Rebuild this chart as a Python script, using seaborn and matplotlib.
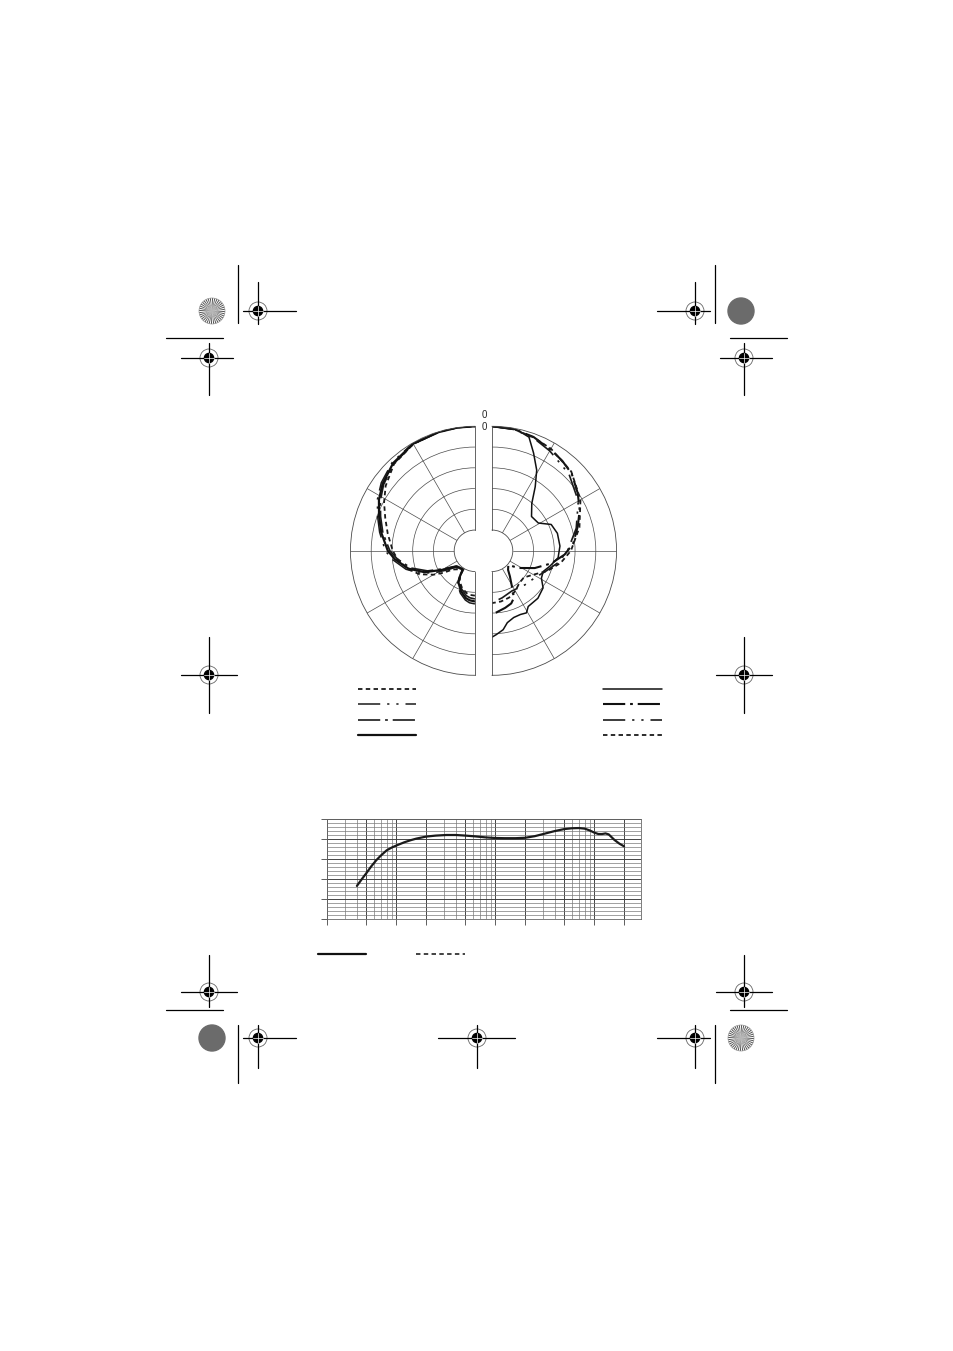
import numpy as np
import matplotlib
matplotlib.use("Agg")
import matplotlib.pyplot as plt
from matplotlib.lines import Line2D
from matplotlib.patches import Circle, Wedge
import seaborn as sns

W, H = 954, 1351

# polar pattern, right half (0..180 deg, 0 = front)
R_SOLID_ANG = [0, 8, 12, 18, 23, 29, 34, 40, 49, 59, 66, 75, 86, 96, 105, 112, 119, 126, 136, 147, 151, 156, 162, 168, 172, 177, 180]
R_SOLID_DB = [0, -0.1, -0.3, -1.2, -4.4, -7.8, -11.4, -15.1, -17.4, -17.0, -14.4, -13.7, -13.6, -14.0, -15.6, -16.7,
              -16.4, -14.8, -14.1, -14.0, -12.9, -13.2, -13.1, -12.3, -10.8, -9.8, -9.2]
R_LDOT_ANG = [0, 10, 20, 31, 38, 46, 56, 65, 74, 85, 93, 102, 112, 123, 131, 140, 145, 150, 155, 160, 167, 180]
R_LDOT_DB = [0, -0.2, -0.8, -1.9, -2.5, -3.3, -5.1, -6.7, -8.5, -10.4, -12.5, -15.4, -18.9, -22.4, -24.8, -24.0,
             -22.5, -20.6, -17.5, -16.5, -15.9, -14.6]
R_LDD_ANG = [0, 10, 20, 30, 45, 60, 75, 90, 100, 110, 122, 136, 154, 168, 180]
R_LDD_DB = [0, -0.3, -1.0, -2.2, -3.8, -6.0, -9.0, -11.8, -13.8, -16.0, -17.8, -18.6, -19.2, -18.4, -17.5]
R_DASH_ANG = [0, 10, 20, 30, 45, 60, 75, 90, 100, 110, 120, 130, 140, 150, 160, 170, 180]
R_DASH_DB = [0, -0.2, -0.9, -1.6, -3.0, -5.4, -8.2, -11.0, -13.2, -15.8, -18.5, -20.0, -19.8, -18.8, -18.0, -17.6, -17.4]

# polar pattern, left half (180..360 deg)
L_ANG = [180, 186, 191, 199, 207, 210, 213, 222, 230, 235, 240, 247, 255, 264, 270, 281, 290, 298, 306, 317, 330, 343, 352, 360]
L_SOLID_DB = [-17.8, -18.0, -18.4, -19.7, -21.3, -22.4, -24.6, -24.4, -24.1, -22.8, -20.8, -16.8, -13.4, -10.6, -9.0,
              -7.0, -5.4, -3.8, -2.5, -1.1, -0.2, -0.1, 0, 0]
L_DASH_DB = [-19.2, -19.3, -19.6, -20.5, -21.8, -22.8, -24.4, -24.0, -23.0, -20.8, -18.5, -15.5, -13.2, -11.2, -10.2,
             -8.6, -7.0, -5.2, -3.4, -1.4, -0.3, 0, 0, 0]
L_LDD_DB = [-17.2, -17.4, -17.9, -19.2, -20.8, -21.9, -24.2, -24.2, -23.8, -22.0, -19.8, -16.0, -12.8, -10.0, -8.4,
            -6.6, -5.0, -3.4, -2.1, -0.8, -0.1, 0, 0, 0]
L_LDOT_DB = [-18.4, -18.6, -19.0, -20.2, -21.8, -23.0, -24.8, -24.6, -24.3, -23.2, -21.4, -17.6, -14.0, -11.2, -9.5,
             -7.4, -5.8, -4.2, -2.8, -1.3, -0.3, -0.1, 0, 0]

# frequency response
RESP_FREQ = [40, 45, 50, 56, 63, 70, 80, 90, 100, 120, 140, 160, 200, 250, 320, 400, 500, 630, 800, 1000, 1250,
             1600, 2000, 2500, 3000, 4000, 5000, 6000, 7000, 8000, 9000, 10000, 11000, 12000, 13000, 14000, 16000,
             18000, 20000]
RESP_DB = [-23.5, -20.0, -17.0, -13.6, -10.5, -8.2, -5.6, -4.2, -3.2, -1.6, -0.5, 0.3, 1.3, 1.8, 2.1, 2.1, 1.8,
           1.4, 0.9, 0.6, 0.5, 0.5, 0.7, 1.5, 2.5, 4.1, 5.1, 5.5, 5.6, 5.3, 4.4, 3.3, 2.6, 2.6, 2.9, 2.4, -0.4,
           -2.3, -3.6]

X_TICKS = [20, 50, 100, 200, 500, 1000, 2000, 5000, 10000, 20000]
Y_TICKS = [-40, -30, -20, -10, 0, 10]

sns.set_style("white")
plt.rcParams["font.family"] = ["Liberation Sans", "DejaVu Sans"]
plt.rcParams["lines.scale_dashes"] = False

DASHED = (0, (3.2, 2.4))
LONG_DOT = (0, (16, 3.5, 2, 3.5))
LONG_DOT_DOT = (0, (16, 5, 1.6, 5, 1.6, 5))
GRID = "#4a4a4a"


def px_rect(left, top, width, height):
    return [left / W, (H - top - height) / H, width / W, height / H]


def setup_half(ax, tmin, tmax, grids):
    ax.set_theta_zero_location("N")
    ax.set_theta_direction(-1)
    ax.set_thetamin(tmin)
    ax.set_thetamax(tmax)
    ax.set_rorigin(-30)
    ax.set_ylim(-25, 0)
    ax.set_rgrids([-20, -15, -10, -5], labels=[""] * 4)
    ax.set_thetagrids(grids, labels=[""] * len(grids))
    ax.grid(True, color=GRID, linewidth=0.5)
    ax.tick_params(length=0)
    for sp in ax.spines.values():
        sp.set_color(GRID)
        sp.set_linewidth(0.6)
    ax.set_facecolor("none")


fig = plt.figure(figsize=(W / 100, H / 100), dpi=100)

# page decoration layer, pixel coordinates
deco = fig.add_axes([0, 0, 1, 1])
deco.set_xlim(0, W)
deco.set_ylim(H, 0)
deco.axis("off")


def target(cx, cy, l, r, u, d):
    deco.plot([cx - l, cx + r], [cy, cy], color="k", lw=0.9)
    deco.plot([cx, cx], [cy - u, cy + d], color="k", lw=0.9)
    deco.add_patch(Circle((cx, cy), 9, fill=False, ec="#666", lw=0.6))
    deco.add_patch(Circle((cx, cy), 4.6, color="k"))
    deco.plot([cx - 4.6, cx + 4.6], [cy, cy], color="w", lw=0.5)
    deco.plot([cx, cx], [cy - 4.6, cy + 4.6], color="w", lw=0.5)


def star(cx, cy, dark):
    if dark:
        deco.add_patch(Circle((cx, cy), 13, color="#6b6b6b"))
        return
    for k in range(0, 360, 10):
        deco.add_patch(Wedge((cx, cy), 13, k, k + 5, color="#555", lw=0))
    deco.add_patch(Circle((cx, cy), 13, fill=False, ec="#999", lw=0.5))


for x in (238, 715):
    deco.plot([x, x], [265, 323], color="k", lw=0.9)
    deco.plot([x, x], [1025, 1083], color="k", lw=0.9)
for x0, x1 in ((166, 223), (730, 787)):
    deco.plot([x0, x1], [338, 338], color="k", lw=0.9)
    deco.plot([x0, x1], [1010, 1010], color="k", lw=0.9)
star(212, 311, False)
star(741, 311, True)
star(212, 1038, True)
star(741, 1038, False)
target(258, 311, 15, 38, 29, 13)
target(695, 311, 38, 15, 29, 13)
target(209, 358, 28, 24, 15, 37)
target(744, 358, 24, 28, 15, 37)
target(209, 675, 28, 28, 38, 38)
target(744, 675, 28, 28, 38, 38)
target(209, 992, 28, 28, 37, 15)
target(744, 992, 28, 28, 37, 15)
target(258, 1038, 15, 38, 13, 30)
target(477, 1038, 39, 38, 13, 30)
target(695, 1038, 38, 15, 13, 30)

# polar halves
axl = fig.add_axes(px_rect(288.2, 426.3, 249, 249), projection="polar")
axr = fig.add_axes(px_rect(429.8, 426.3, 249, 249), projection="polar")
setup_half(axl, 180, 360, [210, 240, 270, 300, 330])
setup_half(axr, 0, 180, [30, 60, 90, 120, 150])

la = np.deg2rad(L_ANG)
l1, = axl.plot(la, L_DASH_DB, color="#1a1a1a", lw=1.3, linestyle=DASHED)
l2, = axl.plot(la, L_LDD_DB, color="#1a1a1a", lw=1.1, linestyle=LONG_DOT_DOT)
l3, = axl.plot(la, L_LDOT_DB, color="#1a1a1a", lw=1.2, linestyle=LONG_DOT)
l4, = axl.plot(la, L_SOLID_DB, color="#111", lw=1.6)

r1, = axr.plot(np.deg2rad(R_SOLID_ANG), R_SOLID_DB, color="#111", lw=1.1)
r2, = axr.plot(np.deg2rad(R_LDOT_ANG), R_LDOT_DB, color="#111", lw=1.5, linestyle=LONG_DOT)
r3, = axr.plot(np.deg2rad(R_LDD_ANG), R_LDD_DB, color="#1a1a1a", lw=1.2, linestyle=LONG_DOT_DOT)
r4, = axr.plot(np.deg2rad(R_DASH_ANG), R_DASH_DB, color="#1a1a1a", lw=1.3, linestyle=DASHED)

deco.text(484, 415, "0", ha="center", va="center", fontsize=7)
deco.text(484, 427, "0", ha="center", va="center", fontsize=7)

leg_kw = dict(loc="upper left", bbox_transform=deco.transData, frameon=False, borderpad=0,
              borderaxespad=0, handletextpad=0, prop={"size": 6})
fig.legend([l1, l2, l3, l4], [""] * 4, bbox_to_anchor=(358, 686), handlelength=7.0,
           labelspacing=0.9, **leg_kw)
fig.legend([r1, r2, r3, r4], [""] * 4, bbox_to_anchor=(603, 686), handlelength=7.1,
           labelspacing=0.9, **leg_kw)

# frequency response
axf = fig.add_axes(px_rect(327.1, 819.3, 314.4, 99.4))
axf.set_xscale("log")
sns.lineplot(x=RESP_FREQ, y=RESP_DB, ax=axf, color="#1a1a1a", linewidth=1.6)
axf.set_xlim(20, 30000)
axf.set_ylim(-40, 10)
axf.set_xticks(X_TICKS)
axf.set_xticks([m * 10 ** e for e in range(1, 5) for m in range(1, 10) if 20 <= m * 10 ** e <= 30000], minor=True)
axf.set_yticks(Y_TICKS)
axf.set_yticks(np.arange(-40, 11, 2), minor=True)
axf.set_xticklabels([])
axf.set_yticklabels([])
axf.tick_params(which="major", direction="out", length=4, width=0.6, color="#444",
                bottom=True, left=True)
axf.tick_params(which="minor", length=0)
axf.grid(True, which="minor", color="#7a7a7a", linewidth=0.5)
axf.grid(True, which="major", color="#444", linewidth=0.7)
for sp in axf.spines.values():
    sp.set_color("#666")
    sp.set_linewidth(0.6)

f1 = Line2D([], [], color="#111", lw=1.6)
f2 = Line2D([], [], color="#222", lw=1.2, linestyle=DASHED)
fig.legend([f1, f2], ["", ""], bbox_to_anchor=(318, 951), handlelength=5.8, ncol=2,
           columnspacing=6.0, labelspacing=0.9, **leg_kw)

fig.savefig("out.png", dpi=100)
